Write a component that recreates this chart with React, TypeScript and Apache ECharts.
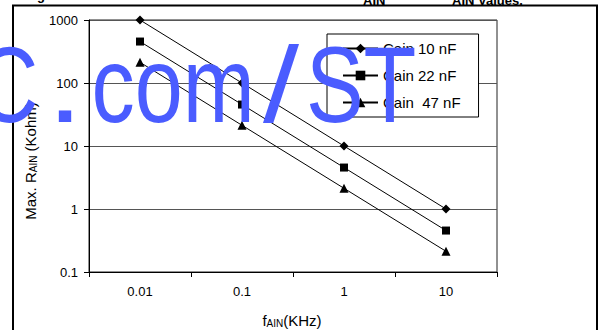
import React, { useEffect, useRef } from 'react';
import * as echarts from 'echarts';

const FONT = '"Liberation Sans", Arial, Helvetica, sans-serif';
const WM = '#4a5cff';

const categories = ['0.01', '0.1', '1', '10'];
const seriesNames = ['Cain 10 nF', 'Cain 22 nF', 'Cain  47 nF'];
const cain10 = [1000, 100, 10, 1];
const cain22 = [455, 45.5, 4.55, 0.455];
const cain47 = [213, 21.3, 2.13, 0.213];
const yTicks = ['0.1', '1', '10', '100', '1000'];

export default function App() {
  const ref = useRef<HTMLDivElement>(null);
  useEffect(() => {
    const chart = echarts.init(ref.current!, null, { renderer: 'svg' });
    const mk = (name: string, data: number[], symbol: string, size: number) => ({
      name,
      type: 'line',
      data,
      symbol,
      symbolSize: size,
      showSymbol: true,
      itemStyle: { color: '#000' },
      lineStyle: { color: '#000', width: 1 },
      z: 3,
    });
    const sub = (main: number, s: number) => ({
      a: { fontSize: main, fontFamily: FONT, fill: '#000', lineHeight: main + 2 },
      b: { fontSize: s, fontFamily: FONT, fill: '#000', lineHeight: s, verticalAlign: 'bottom' },
    });
    const wmText = (text: string, x: number, align: string, scaleX: number) => ({
      type: 'text',
      x,
      y: 84.6,
      scaleX,
      z: 100,
      style: {
        text,
        fontSize: 108,
        fontFamily: FONT,
        fill: WM,
        align,
        verticalAlign: 'middle',
      },
    });
    chart.setOption({
      animation: false,
      backgroundColor: '#fff',
      textStyle: { fontFamily: FONT },
      grid: {
        left: 89,
        top: 20,
        width: 408,
        height: 252,
        show: true,
        borderColor: '#222',
        borderWidth: 1,
        backgroundColor: 'transparent',
      },
      legend: {
        orient: 'vertical',
        left: 327,
        top: 34,
        data: seriesNames,
        itemWidth: 35,
        itemHeight: 12,
        itemGap: 12,
        padding: [7, 18, 7, 15],
        borderColor: '#000',
        borderWidth: 1,
        borderRadius: 0,
        backgroundColor: '#fff',
        textStyle: { fontSize: 15, color: '#000', fontFamily: FONT, lineHeight: 15 },
        z: 10,
      },
      xAxis: {
        type: 'category',
        data: categories,
        boundaryGap: true,
        axisLine: { show: true, lineStyle: { color: '#000', width: 1 } },
        axisTick: { show: true, length: 5, lineStyle: { color: '#000' } },
        axisLabel: { margin: 13, fontSize: 13, color: '#000', fontFamily: FONT },
        splitLine: { show: false },
      },
      yAxis: {
        type: 'log',
        logBase: 10,
        min: 0.1,
        max: 1000,
        axisLine: { show: true, lineStyle: { color: '#000', width: 1 } },
        axisTick: { show: true, length: 5, lineStyle: { color: '#000' } },
        axisLabel: {
          margin: 11,
          fontSize: 13,
          color: '#000',
          fontFamily: FONT,
          formatter: (v: number) => {
            const t = yTicks.find((s) => Math.abs(Math.log10(Number(s)) - Math.log10(v)) < 1e-6);
            return t ?? String(v);
          },
        },
        splitLine: { show: true, lineStyle: { color: '#555', width: 1 } },
      },
      series: [
        mk(seriesNames[0], cain10, 'diamond', 9),
        mk(seriesNames[1], cain22, 'rect', 8),
        mk(seriesNames[2], cain47, 'triangle', 9),
      ],
      graphic: [
        {
          type: 'rect',
          shape: { x: 13, y: 5.5, width: 584, height: 340 },
          style: { fill: 'none', stroke: '#000', lineWidth: 2 },
          z: 0,
          silent: true,
        },
        {
          type: 'text',
          x: 292,
          y: 320,
          style: {
            text: '{a|f}{b|AIN}{a|(KHz)}',
            rich: sub(15, 10),
            align: 'center',
            verticalAlign: 'middle',
          },
        },
        {
          type: 'text',
          x: 30,
          y: 161,
          rotation: Math.PI / 2,
          style: {
            text: '{a|Max. R}{b|AIN}{a| (Kohm)}',
            rich: sub(15, 10),
            align: 'center',
            verticalAlign: 'middle',
          },
        },
        {
          type: 'text',
          x: 37,
          y: -4.5,
          style: { text: 'g', fontSize: 13, fontWeight: 'bold', fontFamily: FONT, fill: '#000', align: 'left', verticalAlign: 'middle' },
        },
        {
          type: 'text',
          x: 363,
          y: 0.5,
          style: { text: 'AIN', fontSize: 13, fontWeight: 'bold', fontFamily: FONT, fill: '#000', align: 'left', verticalAlign: 'middle' },
        },
        {
          type: 'text',
          x: 452,
          y: 0.5,
          style: { text: 'AIN Values.', fontSize: 13, fontWeight: 'bold', fontFamily: FONT, fill: '#000', align: 'left', verticalAlign: 'middle' },
        },
        wmText('C', 38.5, 'right', 0.8),
        wmText('.', 65, 'center', 1.2),
        wmText('com', 91.6, 'left', 0.8),
        wmText('/', 281, 'center', 1.2),
        wmText('ST', 306, 'left', 0.8),
      ],
    });
    return () => chart.dispose();
  }, []);
  return (
    <div
      ref={ref}
      style={{ position: 'fixed', left: 0, top: 0, width: 603, height: 330, background: '#fff' }}
    />
  );
}
